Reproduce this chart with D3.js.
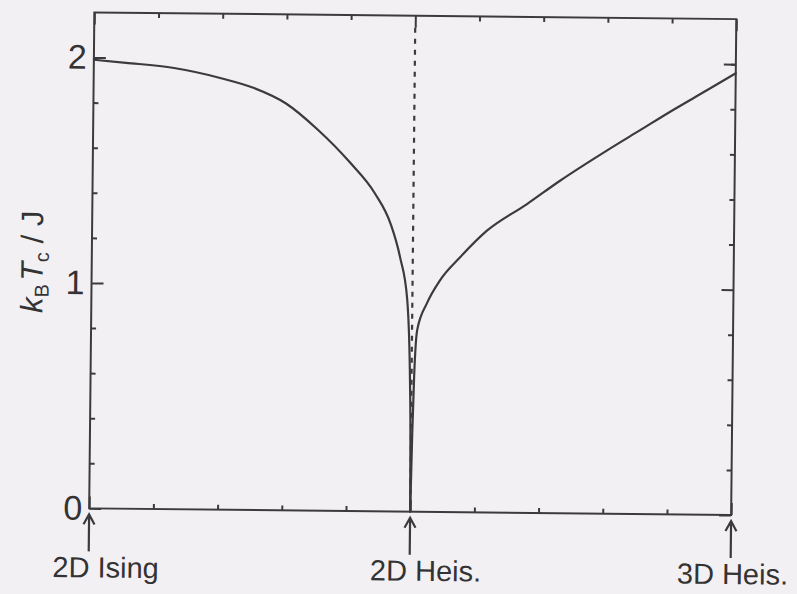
<!DOCTYPE html>
<html>
<head>
<meta charset="utf-8">
<script src="https://cdn.jsdelivr.net/npm/d3@7"></script>
<style>
  html, body { margin: 0; padding: 0; background: #f3f0f4; }
  svg { display: block; }
  text { font-family: "Liberation Sans", Arial, sans-serif; fill: #333; }
</style>
</head>
<body>
<svg id="chart" width="797" height="594"></svg>
<script>
// left branch: 2D Ising -> 2D Heis.
const leftX = [0, 0.5, 1.25, 2.0, 2.5, 3.0, 3.5, 4.0, 4.4, 4.65, 4.8, 4.92, 4.977, 4.993, 5.0];
const leftY = [1.99, 1.978, 1.957, 1.913, 1.872, 1.805, 1.69, 1.548, 1.41, 1.275, 1.13, 0.94, 0.57, 0.3, 0];
// right branch: 2D Heis. -> 3D Heis.
const rightX = [5.0, 5.02, 5.04, 5.08, 5.23, 5.43, 5.74, 6.15, 6.77, 7.28, 8.01, 8.52, 9.03, 9.56, 10];
const rightY = [0, 0.35, 0.6, 0.806, 0.927, 1.029, 1.132, 1.25, 1.37, 1.475, 1.612, 1.703, 1.794, 1.884, 1.96];

const yLabels = [0, 1, 2];
const yMinor = [0.2, 0.4, 0.6, 0.8, 1.2, 1.4, 1.6, 1.8, 2.0];
const xMajor = [0, 5, 10];
const xMinor = [1, 2, 3, 4, 6, 7, 8, 9];
const criticalX = 5;
const limitNames = ['2D Ising', '2D Heis.', '3D Heis.'];
const limitX = [0, 5, 10];

const svg = d3.select('#chart'),
  margin = {top: 15.75, left: 91.75},
  width = 642,
  height = 496;

const x = d3.scaleLinear().domain([0, 10]).range([0, width]);
const y = d3.scaleLinear().domain([0, 2.2]).range([height, 0]);

// the scanned figure is slightly tilted
const g = svg.append('g')
  .attr('transform', 'rotate(0.6,' + (margin.left + width / 2) + ',' + (margin.top + height / 2) + ') translate(' + margin.left + ',' + margin.top + ')');

const ink = '#3b3b3d';

function styleAxis(sel) {
  sel.select('.domain').remove();
  sel.selectAll('.tick line').attr('stroke', ink).attr('stroke-width', 2);
}

// left axis with labels
g.append('g')
  .call(d3.axisLeft(y).tickValues(yLabels).tickSize(-12).tickPadding(7).tickFormat(d3.format('d')))
  .call(styleAxis)
  .selectAll('text')
  .style('font-size', '34px')
  .style('font-family', '"Liberation Sans", Arial, sans-serif')
  .attr('fill', '#333');
g.append('g')
  .call(d3.axisLeft(y).tickValues(yMinor).tickSize(-5).tickFormat(''))
  .call(styleAxis);

// right axis
g.append('g')
  .attr('transform', 'translate(' + width + ',0)')
  .call(d3.axisRight(y).tickValues(yLabels).tickSize(-12).tickFormat(''))
  .call(styleAxis);
g.append('g')
  .attr('transform', 'translate(' + width + ',0)')
  .call(d3.axisRight(y).tickValues(yMinor).tickSize(-5).tickFormat(''))
  .call(styleAxis);

// bottom and top axes
[[d3.axisBottom, height], [d3.axisTop, 0]].forEach(function(a) {
  g.append('g')
    .attr('transform', 'translate(0,' + a[1] + ')')
    .call(a[0](x).tickValues(xMajor).tickSize(-12).tickFormat(''))
    .call(styleAxis);
  g.append('g')
    .attr('transform', 'translate(0,' + a[1] + ')')
    .call(a[0](x).tickValues(xMinor).tickSize(-5).tickFormat(''))
    .call(styleAxis);
});

// frame
g.append('rect')
  .attr('x', 0).attr('y', 0)
  .attr('width', width).attr('height', height)
  .attr('fill', 'none')
  .attr('stroke', ink)
  .attr('stroke-width', 2);

// dashed line at the 2D Heisenberg point
g.append('line')
  .attr('x1', x(criticalX)).attr('x2', x(criticalX))
  .attr('y1', y(2.2) + 12).attr('y2', y(0))
  .attr('stroke', ink)
  .attr('stroke-width', 2.2)
  .attr('stroke-dasharray', '5,6');

const line1 = d3.line()
  .x(function(d) { return x(d[0]); })
  .y(function(d) { return y(d[1]); })
  .curve(d3.curveMonotoneX);

[[leftX, leftY], [rightX, rightY]].forEach(function(s) {
  g.append('path')
    .datum(d3.zip(s[0], s[1]))
    .attr('fill', 'none')
    .attr('stroke', ink)
    .attr('stroke-width', 2.2)
    .attr('stroke-linejoin', 'round')
    .attr('stroke-linecap', 'round')
    .attr('d', line1);
});

// y axis title
const title = g.append('text')
  .attr('transform', 'translate(-49,' + (height / 2 + 2) + ') rotate(-90)')
  .attr('text-anchor', 'middle')
  .style('font-size', '31px');
title.append('tspan').style('font-style', 'italic').text('k');
title.append('tspan').attr('dy', 6).style('font-size', '20px').text('B');
title.append('tspan').attr('dy', -6).attr('dx', 3).style('font-style', 'italic').text('T');
title.append('tspan').attr('dy', 6).style('font-size', '20px').text('c');
title.append('tspan').attr('dy', -6).text(' / J');

// arrows and limit names below the axis
const labelDx = [17, 16, 2];
limitNames.forEach(function(name, i) {
  const ax = x(limitX[i]);
  const top = height + 6;
  g.append('path')
    .attr('d', 'M' + ax + ',' + top + 'V' + (height + 43) +
      'M' + (ax - 5.5) + ',' + (top + 10) + 'L' + ax + ',' + top + 'L' + (ax + 5.5) + ',' + (top + 10))
    .attr('fill', 'none')
    .attr('stroke', ink)
    .attr('stroke-width', 2.2);
  g.append('text')
    .attr('x', ax + labelDx[i])
    .attr('y', height + 69)
    .attr('text-anchor', 'middle')
    .style('font-size', '29px')
    .text(name);
});
</script>
</body>
</html>
